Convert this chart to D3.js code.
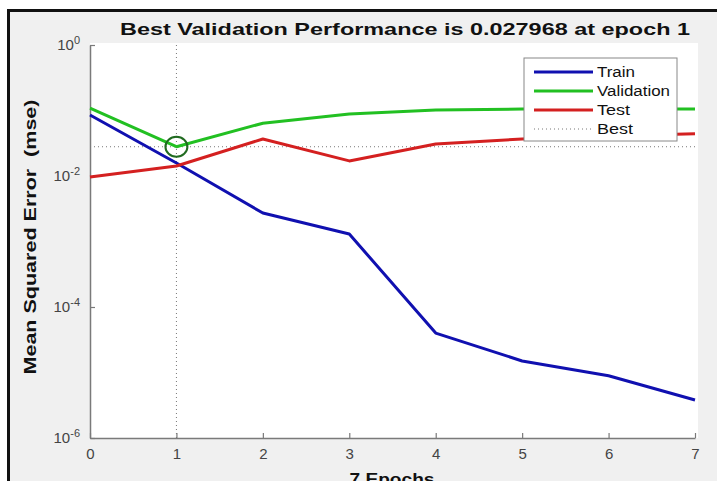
<!DOCTYPE html>
<html>
<head>
<meta charset="utf-8">
<script src="https://cdn.jsdelivr.net/npm/d3@7"></script>
<style>
  html, body { margin: 0; padding: 0; background: #fff; }
  svg { display: block; font-family: "Liberation Sans", Arial, sans-serif; }
</style>
</head>
<body>
<div id="chart"></div>
<script>
var epochs = [0, 1, 2, 3, 4, 5, 6, 7];
var train = [0.0853, 0.0158, 0.00272, 0.0013, 0.00004, 0.000015, 0.0000089, 0.0000038];
var validation = [0.109, 0.027968, 0.064, 0.0885, 0.102, 0.105, 0.105, 0.105];
var test = [0.00966, 0.0142, 0.0367, 0.017, 0.0309, 0.0367, 0.0409, 0.044];
var yTicks = [1, 1e-2, 1e-4, 1e-6];
var yTickExp = ['0', '-2', '-4', '-6'];
var bestEpoch = 1;
var bestValue = 0.027968;
var legendNames = ['Train', 'Validation', 'Test', 'Best'];

var width = 717, height = 481;
var dims = { left: 90, right: 695, top: 45, bottom: 438 };

var svg = d3.select('#chart').append('svg').attr('width', width).attr('height', height);

// figure background + black frame
svg.append('rect').attr('x', 0).attr('y', 0).attr('width', width).attr('height', height).attr('fill', '#fff');
svg.append('rect').attr('x', 9).attr('y', 11).attr('width', width - 9).attr('height', height - 11).attr('fill', '#f0f0f0');
svg.append('rect').attr('x', 7).attr('y', 9).attr('width', width - 7).attr('height', 3).attr('fill', '#111');
svg.append('rect').attr('x', 7).attr('y', 9).attr('width', 3).attr('height', height - 9).attr('fill', '#111');

// plot area
svg.append('rect')
  .attr('x', dims.left).attr('y', dims.top - 2)
  .attr('width', dims.right - dims.left + 3).attr('height', dims.bottom - dims.top + 2)
  .attr('fill', '#fff');

var x = d3.scaleLinear().domain([0, 7]).range([dims.left, dims.right]);
var y = d3.scaleLog().domain([1e-6, 1]).range([dims.bottom, dims.top]);

// axes
var axisColor = '#7a7a7a';
var xAxis = svg.append('g').attr('transform', 'translate(0,' + dims.bottom + ')')
  .call(d3.axisBottom(x).tickValues(epochs).tickSizeInner(-5).tickSizeOuter(0).tickPadding(10).tickFormat(d3.format('d')));
var yAxis = svg.append('g').attr('transform', 'translate(' + dims.left + ',0)')
  .call(d3.axisLeft(y).tickValues(yTicks).tickSizeInner(-5).tickSizeOuter(0).tickPadding(8).tickFormat(''));

[xAxis, yAxis].forEach(function(a) {
  a.select('.domain').attr('stroke', axisColor).attr('stroke-width', 1.5);
  a.selectAll('.tick line').attr('stroke', axisColor).attr('stroke-width', 1.2);
  a.selectAll('text').attr('fill', '#444').attr('font-size', 15);
});
xAxis.selectAll('text').attr('dy', '0.71em');

// y tick labels with superscripts
yAxis.selectAll('.tick').each(function(d, i) {
  var t = d3.select(this).select('text')
    .attr('x', -10).attr('dy', '0.32em').attr('text-anchor', 'end').text(null);
  t.append('tspan').text('10');
  t.append('tspan').attr('dy', '-0.6em').attr('font-size', 11).text(yTickExp[i]);
});

// best markers
var dotted = '#777';
svg.append('line')
  .attr('x1', x(bestEpoch)).attr('x2', x(bestEpoch))
  .attr('y1', dims.top).attr('y2', dims.bottom)
  .attr('stroke', dotted).attr('stroke-width', 1).attr('stroke-dasharray', '1,3');
svg.append('line')
  .attr('x1', dims.left).attr('x2', dims.right)
  .attr('y1', y(bestValue)).attr('y2', y(bestValue))
  .attr('stroke', dotted).attr('stroke-width', 1).attr('stroke-dasharray', '1,3');

// series
var series = [
  { name: 'Train', values: train, color: '#1010b0' },
  { name: 'Validation', values: validation, color: '#22c022' },
  { name: 'Test', values: test, color: '#d42020' }
];
var line = d3.line().x(function(d, i) { return x(epochs[i]); }).y(function(d) { return y(d); });

series.forEach(function(s) {
  svg.append('path').datum(s.values)
    .attr('d', line)
    .attr('fill', 'none')
    .attr('stroke', s.color)
    .attr('stroke-width', 3)
    .attr('stroke-linejoin', 'round');
});

svg.append('ellipse')
  .attr('cx', x(bestEpoch)).attr('cy', y(bestValue))
  .attr('rx', 11).attr('ry', 10)
  .attr('fill', 'none').attr('stroke', '#216b21').attr('stroke-width', 2);

// legend
var lg = svg.append('g');
lg.append('rect').attr('x', 524).attr('y', 58).attr('width', 153).attr('height', 83)
  .attr('fill', '#fff').attr('stroke', '#888').attr('stroke-width', 1);
var legendLen = [38, 73, 33, 36];
legendNames.forEach(function(name, i) {
  var ly = 72 + i * 19;
  var s = series[i];
  lg.append('line')
    .attr('x1', 534).attr('x2', 593).attr('y1', ly).attr('y2', ly)
    .attr('stroke', s ? s.color : dotted)
    .attr('stroke-width', s ? 3 : 1)
    .attr('stroke-dasharray', s ? null : '1,3');
  lg.append('text')
    .attr('x', 597).attr('y', ly).attr('dy', '0.35em')
    .attr('font-size', 14).attr('fill', '#111')
    .attr('textLength', legendLen[i]).attr('lengthAdjust', 'spacingAndGlyphs')
    .text(name);
});

// title and labels
svg.append('text')
  .attr('x', 405).attr('y', 35)
  .attr('text-anchor', 'middle').attr('font-size', 17).attr('font-weight', 'bold').attr('fill', '#111')
  .attr('textLength', 570).attr('lengthAdjust', 'spacingAndGlyphs')
  .text('Best Validation Performance is 0.027968 at epoch 1');

svg.append('text')
  .attr('transform', 'translate(36,237) rotate(-90)')
  .attr('text-anchor', 'middle').attr('font-size', 16).attr('font-weight', 'bold').attr('fill', '#111')
  .attr('textLength', 275).attr('lengthAdjust', 'spacingAndGlyphs')
  .attr('xml:space', 'preserve')
  .text('Mean Squared Error  (mse)');

svg.append('text')
  .attr('x', 392).attr('y', 485)
  .attr('text-anchor', 'middle').attr('font-size', 17).attr('font-weight', 'bold').attr('fill', '#111')
  .attr('textLength', 85).attr('lengthAdjust', 'spacingAndGlyphs')
  .text('7 Epochs');
</script>
</body>
</html>
